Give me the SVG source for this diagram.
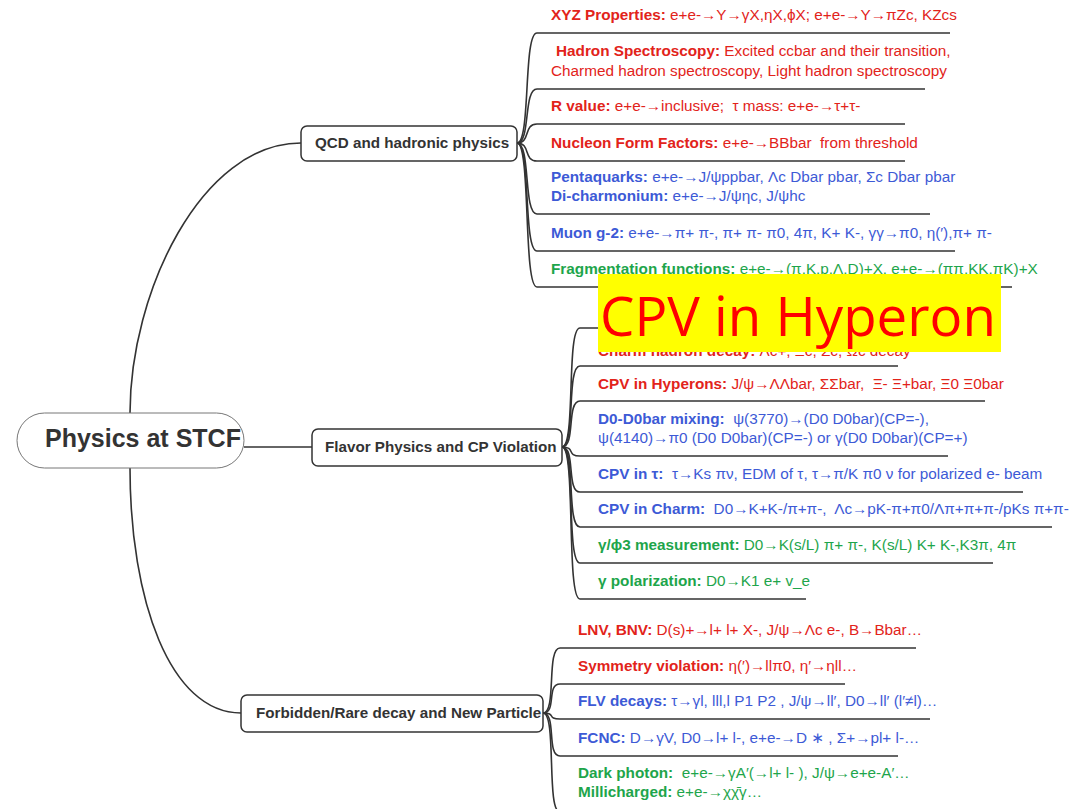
<svg xmlns="http://www.w3.org/2000/svg" width="1074" height="809" viewBox="0 0 1074 809">
<style>
text{font-family:"Liberation Sans",Arial,"DejaVu Sans",sans-serif;}
.root{font-size:25px;font-weight:bold;fill:#333;}
.mid{font-size:15.2px;font-weight:bold;fill:#333;}
.leaf{font-size:15.3px;}
.b{font-weight:bold;}
.r{fill:#e2231a;}
.bl{fill:#3d5ad6;}
.g{fill:#1ea54b;}
.box{fill:#fff;stroke:#333;stroke-width:1.5;}
.conn path{fill:none;stroke:#333;stroke-width:1.6;}
</style>
<rect width="1074" height="809" fill="#fff"/>
<g id="connectors" class="conn">
<path d="M130,413 C130,293 201,143 301,143"/>
<path d="M244,447 H312"/>
<path d="M130,468 C130,600 170,713 241,713"/>
<path d="M517,143 C531,143 523,33 537,33 H950"/>
<path d="M517,143 C531,143 523,89 537,89 H925"/>
<path d="M517,143 C531,143 523,124 537,124 H905"/>
<path d="M517,143 C531,143 523,161 537,161 H905"/>
<path d="M517,143 C531,143 523,214 537,214 H930"/>
<path d="M517,143 C531,143 523,251 537,251 H955"/>
<path d="M517,143 C531,143 523,287 537,287 H1012"/>
<path d="M562,447 C576,447 566,328 580,328 H960"/>
<path d="M562,447 C576,447 566,366 580,366 H898"/>
<path d="M562,447 C576,447 566,401 580,401 H985"/>
<path d="M562,447 C576,447 566,456 580,456 H948"/>
<path d="M562,447 C576,447 566,492 580,492 H1023"/>
<path d="M562,447 C576,447 566,527 580,527 H1052"/>
<path d="M562,447 C576,447 566,563 580,563 H993"/>
<path d="M562,447 C576,447 566,599 580,599 H806"/>
<path d="M543,713 C557,713 546,648 560,648 H916"/>
<path d="M543,713 C557,713 546,684 560,684 H845"/>
<path d="M543,713 C557,713 546,719 560,719 H930"/>
<path d="M543,713 C557,713 546,756 560,756 H898"/>
<path d="M543,713 C557,713 546,812 560,812 H900"/>
</g>
<g id="root">
<rect x="17" y="413" width="227" height="55" rx="27.5" fill="#fff" stroke="#777" stroke-width="1"/>
<text class="root" x="45" y="447">Physics at STCF</text>
</g>
<g id="qcd">
<rect class="box" x="301" y="126" width="216" height="35" rx="6"/>
<text class="mid" x="315" y="148">QCD and hadronic physics</text>
</g>
<g id="flavor">
<rect class="box" x="312" y="429" width="250" height="37" rx="6"/>
<text class="mid" x="325" y="452">Flavor Physics and CP Violation</text>
</g>
<g id="forbidden">
<rect class="box" x="241" y="695" width="302" height="37" rx="6"/>
<text class="mid" x="256" y="718">Forbidden/Rare decay and New Particle</text>
</g>
<g id="qcd-items" class="leaf">
<text x="551" y="20" class="r"><tspan class="b">XYZ Properties:</tspan> e+e-→Y→γX,ηX,ϕX; e+e-→Y→πZc, KZcs</text>
<text x="556" y="56" class="r"><tspan class="b">Hadron Spectroscopy:</tspan> Excited ccbar and their transition,</text>
<text x="551" y="76" class="r">Charmed hadron spectroscopy, Light hadron spectroscopy</text>
<text x="551" y="111" class="r"><tspan class="b">R value:</tspan> e+e-→inclusive;&#160; τ mass: e+e-→τ+τ-</text>
<text x="551" y="148" class="r"><tspan class="b">Nucleon Form Factors:</tspan> e+e-→BBbar&#160; from threshold</text>
<text x="551" y="182" class="bl"><tspan class="b">Pentaquarks:</tspan> e+e-→J/ψppbar, Λc Dbar pbar, Σc Dbar pbar</text>
<text x="551" y="201" class="bl"><tspan class="b">Di-charmonium:</tspan> e+e-→J/ψηc, J/ψhc</text>
<text x="551" y="238" class="bl"><tspan class="b">Muon g-2:</tspan> e+e-→π+ π-, π+ π- π0, 4π, K+ K-, γγ→π0, η(′),π+ π-</text>
<text x="551" y="274" class="g"><tspan class="b">Fragmentation functions:</tspan> e+e-→(π,K,p,Λ,D)+X, e+e-→(ππ,KK,πK)+X</text>
</g>
<g id="flavor-items" class="leaf">
<text x="598" y="356" class="r"><tspan class="b">Charm hadron decay:</tspan> Λc+, Ξc, Σc, Ωc decay</text>
<text x="598" y="389" class="r"><tspan class="b">CPV in Hyperons:</tspan> J/ψ→ΛΛbar, ΣΣbar,&#160; Ξ- Ξ+bar, Ξ0 Ξ0bar</text>
<text x="598" y="424" class="bl"><tspan class="b">D0-D0bar mixing:</tspan>&#160; ψ(3770)→(D0 D0bar)(CP=-),</text>
<text x="598" y="443" class="bl">ψ(4140)→π0 (D0 D0bar)(CP=-) or γ(D0 D0bar)(CP=+)</text>
<text x="598" y="479" class="bl"><tspan class="b">CPV in τ:</tspan>&#160; τ→Ks πν, EDM of τ, τ→π/K π0 ν for polarized e- beam</text>
<text x="598" y="514" class="bl"><tspan class="b">CPV in Charm:</tspan>&#160; D0→K+K-/π+π-,&#160; Λc→pK-π+π0/Λπ+π+π-/pKs π+π-</text>
<text x="598" y="550" class="g"><tspan class="b">γ/ϕ3 measurement:</tspan> D0→K(s/L) π+ π-, K(s/L) K+ K-,K3π, 4π</text>
<text x="598" y="586" class="g"><tspan class="b">γ polarization:</tspan> D0→K1 e+ v_e</text>
</g>
<g id="forbidden-items" class="leaf">
<text x="578" y="635" class="r"><tspan class="b">LNV, BNV:</tspan> D(s)+→l+ l+ X-, J/ψ→Λc e-, B→Bbar…</text>
<text x="578" y="671" class="r"><tspan class="b">Symmetry violation:</tspan> η(′)→llπ0, η′→ηll…</text>
<text x="578" y="706" class="bl"><tspan class="b">FLV decays:</tspan> τ→γl, lll,l P1 P2 , J/ψ→ll′, D0→ll′ (l′≠l)…</text>
<text x="578" y="743" class="bl"><tspan class="b">FCNC:</tspan> D→γV, D0→l+ l-, e+e-→D ∗ , Σ+→pl+ l-…</text>
<text x="578" y="778" class="g"><tspan class="b">Dark photon:</tspan>&#160; e+e-→γA′(→l+ l- ), J/ψ→e+e-A′…</text>
<text x="578" y="797" class="g"><tspan class="b">Millicharged:</tspan> e+e-→χχ̄γ…</text>
</g>
<g id="overlay">
<rect x="598" y="274" width="403" height="78" fill="#ffff00"/>
<text x="600" y="336" font-size="54" fill="#ff0000" textLength="396" lengthAdjust="spacingAndGlyphs" style="font-family:'Open Sans','Liberation Sans',sans-serif">CPV in Hyperon</text>
</g>
</svg>
